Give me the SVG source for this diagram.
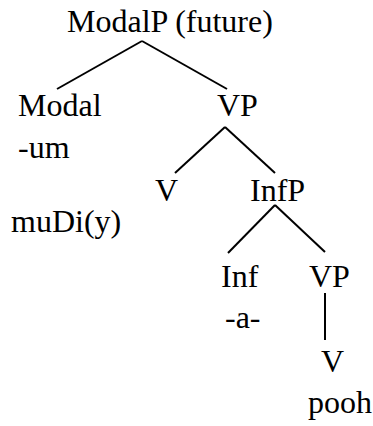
<svg xmlns="http://www.w3.org/2000/svg" width="373" height="426" viewBox="0 0 373 426">
<style>
text{font-family:'Liberation Serif','Times New Roman',Times,serif;font-size:32px;fill:#000}
line{stroke:#000;stroke-width:2}
</style>
<rect width="373" height="426" fill="#fff"/>
<g id="edges">
<line x1="142" y1="41" x2="57" y2="89"/>
<line x1="142" y1="41" x2="227" y2="89"/>
<line x1="225" y1="127" x2="175" y2="173"/>
<line x1="225" y1="127" x2="275" y2="173"/>
<line x1="275" y1="205" x2="228" y2="253"/>
<line x1="275" y1="205" x2="325" y2="252"/>
<line x1="325" y1="293" x2="325" y2="340"/>
</g>
<g font-family="Liberation Serif, Times New Roman, serif">
<g id="n-modalp"><text x="67" y="32">ModalP (future)</text></g>
<g id="n-modal"><text x="18" y="116">Modal</text></g>
<g id="n-um"><text x="18" y="158">-um</text></g>
<g id="n-vp1"><text x="217" y="116">VP</text></g>
<g id="n-v1"><text x="155" y="201">V</text></g>
<g id="n-infp"><text x="250" y="201">InfP</text></g>
<g id="n-mudi"><text x="11" y="232">muDi(y)</text></g>
<g id="n-inf"><text x="221" y="287">Inf</text></g>
<g id="n-a"><text x="225" y="328">-a-</text></g>
<g id="n-vp2"><text x="309" y="287">VP</text></g>
<g id="n-v2"><text x="321" y="372">V</text></g>
<g id="n-pooh"><text x="308" y="413">pooh</text></g>
</g>
</svg>
